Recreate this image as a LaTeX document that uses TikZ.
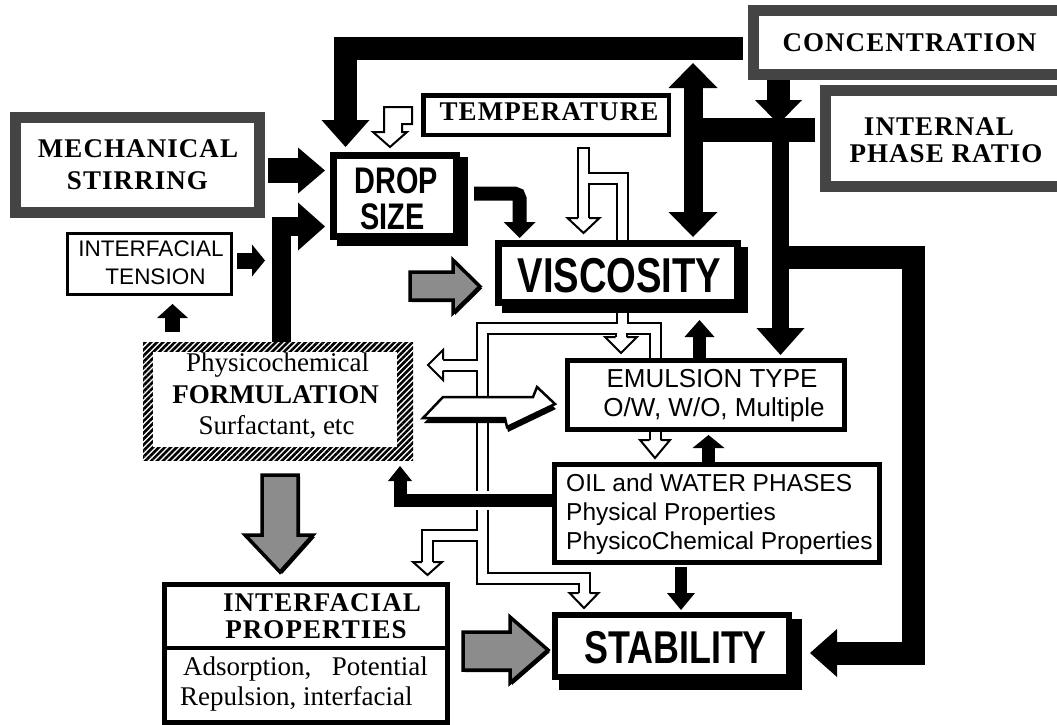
\documentclass[tikz,border=0pt]{standalone}
\usepackage{fontspec}
\setmainfont{Liberation Serif}
\newfontfamily\lsans{Liberation Sans}
\newfontfamily\lcond{Liberation Sans}[FakeStretch=0.78]
\newfontfamily\lsp{Liberation Serif}[LetterSpace=4]
\usetikzlibrary{patterns.meta}
\definecolor{framegray}{HTML}{444444}
\definecolor{dotgray}{HTML}{8C8C8C}
\tikzset{
  pics/bhead/.style args={#1/#2}{code={\fill (-#2,-#1) -- (0,0) -- (-#2,#1) -- cycle;}},
  pics/whead/.style args={#1/#2}{code={
    \fill[white] (-#2,-#1) -- (0,0) -- (-#2,#1) -- cycle;
    \draw[line width=2pt, line join=miter] (-#2,-5.5) -- (-#2,-#1) -- (0,0) -- (-#2,#1) -- (-#2,5.5);}},
  gbox/.style={draw=framegray, line width=11pt, fill=white, inner sep=0pt},
  kbox/.style={draw=black, fill=white, inner sep=0pt, line width=#1},
  blk/.style={line width=#1, line cap=butt, line join=miter},
  pipeb/.style={line width=13pt, line join=miter, line cap=butt},
  pipew/.style={white, line width=9pt, line join=miter, line cap=butt},
  garrow/.style={fill=dotgray, draw=black, line width=3.5pt, line join=miter},
  serb/.style={inner sep=0pt, anchor=base, font=\fontsize{27}{27}\selectfont\lsp\bfseries},
  serbn/.style={inner sep=0pt, anchor=base, font=\fontsize{27}{27}\selectfont\bfseries},
  serr/.style={inner sep=0pt, anchor=base, font=\fontsize{27}{27}\selectfont},
  sans/.style={inner sep=0pt, anchor=base, font=\fontsize{#1}{#1}\selectfont\lsans},
  cond/.style={inner sep=0pt, anchor=base, font=\fontsize{#1}{#1}\selectfont\lcond\bfseries}
}
\begin{document}
\begin{tikzpicture}[x=1pt,y=-1pt]
\useasboundingbox (0,0) rectangle (1057,725);
\clip (0,0) rectangle (1057,725);

% ---------- white pipe network ----------
\draw[pipeb] (583.5,147) -- (583.5,218);
\draw[pipeb] (583.5,178.5) -- (622,178.5) -- (622,328.5);
\draw[pipeb] (655,440) -- (655,328.5) -- (482.5,328.5) -- (482.5,578) -- (584,578) -- (584,593);
\draw[pipeb] (621,328.5) -- (621,337);
\draw[pipeb] (482.5,535) -- (427.5,535) -- (427.5,562);
\draw[pipeb] (482.5,365) -- (443,365);
\draw[pipew] (583.5,149) -- (583.5,218);
\draw[pipew] (583.5,178.5) -- (622,178.5) -- (622,328.5);
\draw[pipew] (655,440) -- (655,328.5) -- (482.5,328.5) -- (482.5,578) -- (584,578) -- (584,593);
\draw[pipew] (621,328.5) -- (621,337);
\draw[pipew] (482.5,535) -- (427.5,535) -- (427.5,562);
\draw[pipew] (482.5,365) -- (443,365);
\coordinate (wt1) at (583.5,233);
\coordinate (wt2) at (621,353);
\coordinate (wt3) at (655,458);
\coordinate (wt4) at (584,608);
\coordinate (wt5) at (427.5,575);
\coordinate (wt6) at (428,365);
\pic[rotate=-90] at (wt1) {whead={16/15}};
\pic[rotate=-90] at (wt2) {whead={16/16}};
\pic[rotate=-90] at (wt3) {whead={15/18}};
\pic[rotate=-90] at (wt4) {whead={14.5/15}};
\pic[rotate=-90] at (wt5) {whead={14.5/13}};
\pic[rotate=180] at (wt6) {whead={15/15}};

% small white arrow onto DROP SIZE
\filldraw[fill=white, line width=2pt, line join=miter] (384,107) -- (412,107) -- (412,124) -- (402,124) -- (402,132) -- (407,132) -- (390,147) -- (373,132) -- (384,132) -- cycle;

% ---------- boxes ----------
\node[gbox, minimum width=316pt, minimum height=64pt] (conc) at (911.5,42.5) {};
\node[gbox, minimum width=244pt, minimum height=96pt] (ipr) at (947.5,138.5) {};
\node[gbox, minimum width=244pt, minimum height=95pt] (mech) at (137.5,165) {};
\node[kbox=4.5pt, minimum width=245.5pt, minimum height=39.5pt] (temp) at (546,115) {};
\node[kbox=3pt, minimum width=164pt, minimum height=61pt] (tens) at (149.5,264) {};
\fill (337,157) rectangle (468,246);
\node[kbox=7pt, minimum width=123pt, minimum height=81pt] (drop) at (395,196) {};
\fill (502,247) rectangle (748,313);
\node[kbox=7pt, minimum width=239pt, minimum height=59pt] (visc) at (618,273) {};
\fill (559,619) rectangle (802,690);
\node[kbox=6pt, minimum width=234pt, minimum height=62pt] (stab) at (672,646) {};
\node[kbox=5pt, minimum width=277pt, minimum height=69pt] (emul) at (706,395) {};
\node[kbox=5pt, minimum width=325pt, minimum height=98pt] (oil) at (717,513.5) {};
\node[kbox=5pt, minimum width=283pt, minimum height=138pt] (iprop) at (306,653.5) {};
\draw[line width=4pt] (iprop.west |- 0,647.5) -- (iprop.east |- 0,647.5);
\node[minimum width=270pt, minimum height=118pt, inner sep=0pt,
      pattern={Lines[angle=45,distance=4.2pt,line width=2.6pt]}] (form) at (278,401) {};
\fill[white] (153,352) rectangle (397,447);

% ---------- black arrows ----------
% concentration -> drop size
\coordinate (a1s) at (743,49);
\coordinate (a1t) at (345.5,147);
\draw[blk=23pt] (a1s) -- (345.5,49) -- (345.5,121);
\pic[rotate=-90] at (a1t) {bhead={24/27}};
% mechanical stirring -> drop size
\coordinate (a2s) at (268,170.5);
\coordinate (a2t) at (325,170.5);
\draw[blk=25pt] (a2s) -- (299,170.5);
\pic at (a2t) {bhead={23/27}};
% formulation -> drop size
\coordinate (a3s) at (281,342);
\coordinate (a3t) at (325,226.5);
\draw[blk=19pt] (a3s) -- (281,226.5) -- (299,226.5);
\pic at (a3t) {bhead={24/27}};
% interfacial tension ->
\coordinate (a4s) at (237,260.5);
\coordinate (a4t) at (265,260.5);
\draw[blk=16pt] (a4s) -- (253,260.5);
\pic at (a4t) {bhead={16/13}};
% formulation -> interfacial tension
\coordinate (a5s) at (172.5,332);
\coordinate (a5t) at (172.5,304);
\draw[blk=15pt] (a5s) -- (172.5,317);
\pic[rotate=90] at (a5t) {bhead={15.5/14}};
% drop size -> viscosity
\coordinate (a6s) at (474,193.5);
\coordinate (a6t) at (519.5,238);
\draw[blk=14pt, rounded corners=5pt] (a6s) -- (519.5,193.5) -- (519.5,223);
\pic[rotate=-90] at (a6t) {bhead={16/16}};
% double arrow concentration <-> viscosity
\coordinate (a7u) at (693,63);
\coordinate (a7d) at (693,237);
\draw[blk=19pt] (693,87) -- (693,213);
\pic[rotate=90] at (a7u) {bhead={24.5/25}};
\pic[rotate=-90] at (a7d) {bhead={24.5/25}};
% concentration -> bar
\coordinate (a8s) at (778.5,80);
\coordinate (a8t) at (778.5,124);
\draw[blk=23pt] (a8s) -- (778.5,101);
\pic[rotate=-90] at (a8t) {bhead={23.5/24}};
% internal phase ratio bar -> emulsion type
\coordinate (a9s) at (815,130);
\coordinate (a9t) at (780.5,355);
\draw[blk=24pt] (a9s) -- (693,130);
\draw[blk=17pt] (780.5,130) -- (780.5,329);
\pic[rotate=-90] at (a9t) {bhead={24/27}};
% -> stability
\coordinate (a10t) at (810,653);
\draw[blk=23pt] (780,257) -- (913,257) -- (913,653) -- (836,653);
\pic[rotate=180] at (a10t) {bhead={24/27}};
% emulsion type -> viscosity
\coordinate (a11t) at (699.5,320);
\draw[blk=13pt] (699.5,358) -- (699.5,336);
\pic[rotate=90] at (a11t) {bhead={15/17}};
% oil -> emulsion type
\coordinate (a12t) at (708.5,435);
\draw[blk=13pt] (708.5,462) -- (708.5,447);
\pic[rotate=90] at (a12t) {bhead={16/13}};
% oil -> stability
\coordinate (a13t) at (681,610);
\draw[blk=12pt] (681,567) -- (681,594);
\pic[rotate=-90] at (a13t) {bhead={14/17}};
% oil -> formulation
\coordinate (a14s) at (552,500);
\coordinate (a14t) at (400,466);
\draw[white, line width=19pt] (470,500) -- (496,500);
\draw[blk=13pt] (a14s) -- (400,500) -- (400,480);
\pic[rotate=90] at (a14t) {bhead={12/15}};

% ---------- gray arrows ----------
\fill[shift={(2,2)}] (410,272) -- (453,272) -- (453,260) -- (480,286.5) -- (453,313) -- (453,300) -- (410,300) -- cycle;
\draw[garrow] (410,272) -- (453,272) -- (453,260) -- (480,286.5) -- (453,313) -- (453,300) -- (410,300) -- cycle;
\fill[shift={(2,2)}] (262,475) -- (298,475) -- (298,535) -- (313,535) -- (280,572) -- (245,535) -- (262,535) -- cycle;
\draw[garrow] (262,475) -- (298,475) -- (298,535) -- (313,535) -- (280,572) -- (245,535) -- (262,535) -- cycle;
\fill[shift={(2,2)}] (463,632) -- (510,632) -- (510,617) -- (548,650) -- (510,683) -- (510,670) -- (463,670) -- cycle;
\draw[garrow] (463,632) -- (510,632) -- (510,617) -- (548,650) -- (510,683) -- (510,670) -- (463,670) -- cycle;

% ---------- white skewed arrow formulation -> emulsion type ----------
\fill[shift={(1,5)}] (423,418) -- (443,397) -- (533,397) -- (537,387) -- (555,404) -- (507,427) -- (505,418) -- cycle;
\filldraw[fill=white, line width=2.5pt, line join=miter] (423,418) -- (443,397) -- (533,397) -- (537,387) -- (555,404) -- (507,427) -- (505,418) -- cycle;

% ---------- texts ----------
\node[serb] (tconc) at (909.5,52) {CONCENTRATION};
\node[serb] (tint) at (939,135) {INTERNAL};
\node[serb] (tphr) at (946,162) {PHASE RATIO};
\node[serb] (tmech) at (138,157) {MECHANICAL};
\node[serb] (tstir) at (137.5,189) {STIRRING};
\node[serb] (ttemp) at (549,120) {TEMPERATURE};
\node[cond=37] (tdrop) at (396.5,193) {DROP};
\node[cond=37] (tsize) at (392.5,229) {SIZE};
\node[cond=49] (tvisc) at (619.5,292) {VISCOSITY};
\node[cond=46] (tstab) at (675.5,663) {STABILITY};
\node[sans=22.5] (tif1) at (151,256) {INTERFACIAL};
\node[sans=22.5] (tif2) at (155.5,284) {TENSION};
\node[serr] (tphc) at (277.5,371) {Physicochemical};
\node[serbn] (tform) at (275.5,403) {FORMULATION};
\node[serr] (tsurf) at (276.5,434) {Surfactant, etc};
\node[sans=26] (temul1) at (712,387) {EMULSION TYPE};
\node[sans=26] (temul2) at (714,416) {O/W, W/O, Multiple};
\node[sans=24.5, anchor=base west] (toil1) at (566,491) {OIL and WATER PHASES};
\node[sans=24.5, anchor=base west] (toil2) at (566,520) {Physical Properties};
\node[sans=24.5, anchor=base west] (toil3) at (566,549) {PhysicoChemical Properties};
\node[serb] (tip1) at (322,611) {INTERFACIAL};
\node[serb] (tip2) at (316,638) {PROPERTIES};
\node[serr, anchor=base west] (tads) at (183,675) {Adsorption,};
\node[serr, anchor=base east] (tpot) at (428,675) {Potential};
\node[serr, anchor=base west] (trep) at (180,705) {Repulsion, interfacial};
\end{tikzpicture}
\end{document}
